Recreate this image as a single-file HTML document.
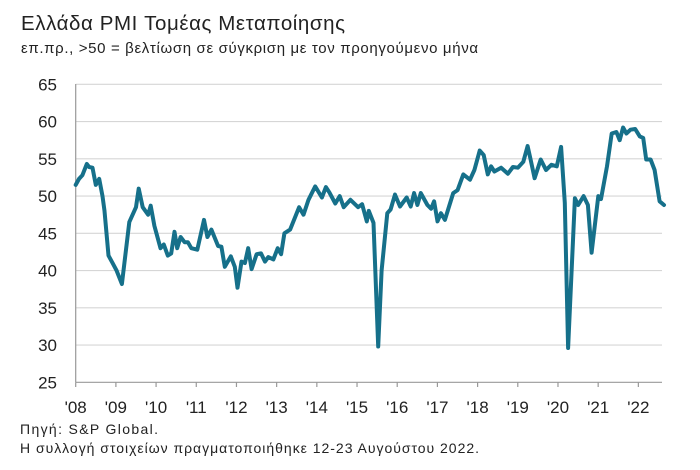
<!DOCTYPE html>
<html><head><meta charset="utf-8"><style>
body{margin:0;background:#fff;width:700px;height:465px;overflow:hidden;font-family:"Liberation Sans","Noto Sans CJK SC",sans-serif;}
</style></head><body>
<svg id="s" width="700" height="465" xmlns="http://www.w3.org/2000/svg" font-family="Liberation Sans, sans-serif">
<text x="21" y="30" font-size="20.5" fill="#222" textLength="324" lengthAdjust="spacing">Ελλάδα PMI Τομέας Μεταποίησης</text>
<text x="21" y="53" font-size="15" fill="#222" textLength="457" lengthAdjust="spacing">επ.πρ., &gt;50 = βελτίωση σε σύγκριση με τον προηγούμενο μήνα</text>
<g id="grid" stroke="#d6d6d6" stroke-width="1.2"></g>
<g id="yl" font-size="17" fill="#222" text-anchor="end"></g>
<g id="xl" font-size="17" fill="#222" text-anchor="middle"></g>
<line x1="75.7" y1="382.3" x2="662" y2="382.3" stroke="#999" stroke-width="1.2"/>
<line x1="75.7" y1="84" x2="75.7" y2="382.3" stroke="#999" stroke-width="1.2"/>
<g id="ticks" stroke="#999" stroke-width="1.2"></g>
<polyline id="ln" fill="none" stroke="#16708a" stroke-width="4" stroke-linejoin="round" stroke-linecap="round"/>
<text x="20" y="434" font-size="14" fill="#222" textLength="138" lengthAdjust="spacing">Πηγή: S&amp;P Global.</text>
<text x="20" y="453" font-size="14" fill="#222" textLength="459" lengthAdjust="spacing">Η συλλογή στοιχείων πραγματοποιήθηκε 12-23 Αυγούστου 2022.</text>
</svg>
<script>
var NS="http://www.w3.org/2000/svg";
function Y(v){return 84.3+(65-v)*7.45;}
function X(m){return 75.7+m*3.35;}
function el(p,t,a,txt){var e=document.createElementNS(NS,t);for(var k in a)e.setAttribute(k,a[k]);if(txt)e.textContent=txt;document.getElementById(p).appendChild(e);}
for(var v=30;v<=65;v+=5){el("grid","line",{x1:75.7,x2:662,y1:Y(v),y2:Y(v)});}
for(var v=25;v<=65;v+=5){el("yl","text",{x:57,y:Y(v)+6},""+v);}
for(var i=0;i<=14;i++){var x=75.7+i*40.19;el("ticks","line",{x1:x,x2:x,y1:382.3,y2:387});el("xl","text",{x:x,y:413},"'"+String(8+i).padStart(2,"0"));}
var d=[[0,51.5],[1,52.3],[2,52.8],[3.3,54.3],[4,53.9],[5,53.8],[6,51.5],[7,52.3],[8,50],[8.6,48],[9.8,42],[11,41],[12.2,40],[13.8,38.2],[16,46.5],[18,48.5],[18.8,51],[20,48.5],[21.6,47.5],[22.4,48.7],[23.5,46],[25.3,43],[26.3,43.5],[27.5,42],[28.5,42.3],[29.5,45.2],[30.3,43],[31.3,44.5],[32.5,43.8],[33.5,43.8],[34.5,43],[36.3,42.8],[38.3,46.8],[39.3,44.5],[40.5,45.5],[42.5,43.3],[43.5,43.2],[44.5,40.5],[46.3,41.9],[47.5,40.5],[48.3,37.7],[49.5,41.2],[50.5,41],[51.5,43],[52.5,40.2],[54,42.2],[55.3,42.3],[56.5,41.2],[57.5,41.8],[59,41.5],[60.3,43],[61.3,42.2],[62.3,45],[64,45.5],[66.7,48.5],[68,47.5],[69.5,49.5],[71.5,51.3],[73.5,49.8],[74.7,51.2],[75.7,50.5],[77.5,49],[78.8,50],[80,48.5],[82,49.5],[84.3,48.5],[85.5,48.9],[86.9,46.6],[87.5,48],[88.9,46.4],[90.3,29.8],[91.3,40],[93,47.7],[94,48.2],[95.3,50.2],[96.8,48.6],[98.8,49.8],[100,48.6],[101,50.4],[102,48.8],[103,50.4],[105,48.8],[106.1,48.3],[107,49.3],[108,46.6],[109,47.7],[110.2,46.8],[112.7,50.4],[114,50.8],[115.7,52.9],[117.7,52.2],[119,53.5],[120.6,56.1],[121.8,55.5],[123,52.9],[124,54],[125,53.3],[127,53.8],[129,53],[130.5,53.9],[132,53.8],[133.6,54.6],[134.9,56.7],[135.8,54.9],[137,52.4],[138.8,54.9],[140.4,53.5],[142,54.2],[143.6,54],[144.9,56.6],[146,49.1],[147,29.6],[149,49.7],[150,48.8],[151.6,50],[152.9,48.8],[154,42.4],[156,50],[156.8,49.6],[158.6,54],[160,58.4],[161.4,58.6],[162.4,57.5],[163.4,59.2],[164.4,58.4],[165.6,58.9],[167,59],[168.4,58],[169.4,57.8],[170.3,54.9],[171.6,54.9],[172.8,53.5],[174.3,49.3],[175.6,48.8]];
document.getElementById("ln").setAttribute("points",d.map(function(p){return X(p[0]).toFixed(1)+","+Y(p[1]).toFixed(1);}).join(" "));
</script>
</body></html>
